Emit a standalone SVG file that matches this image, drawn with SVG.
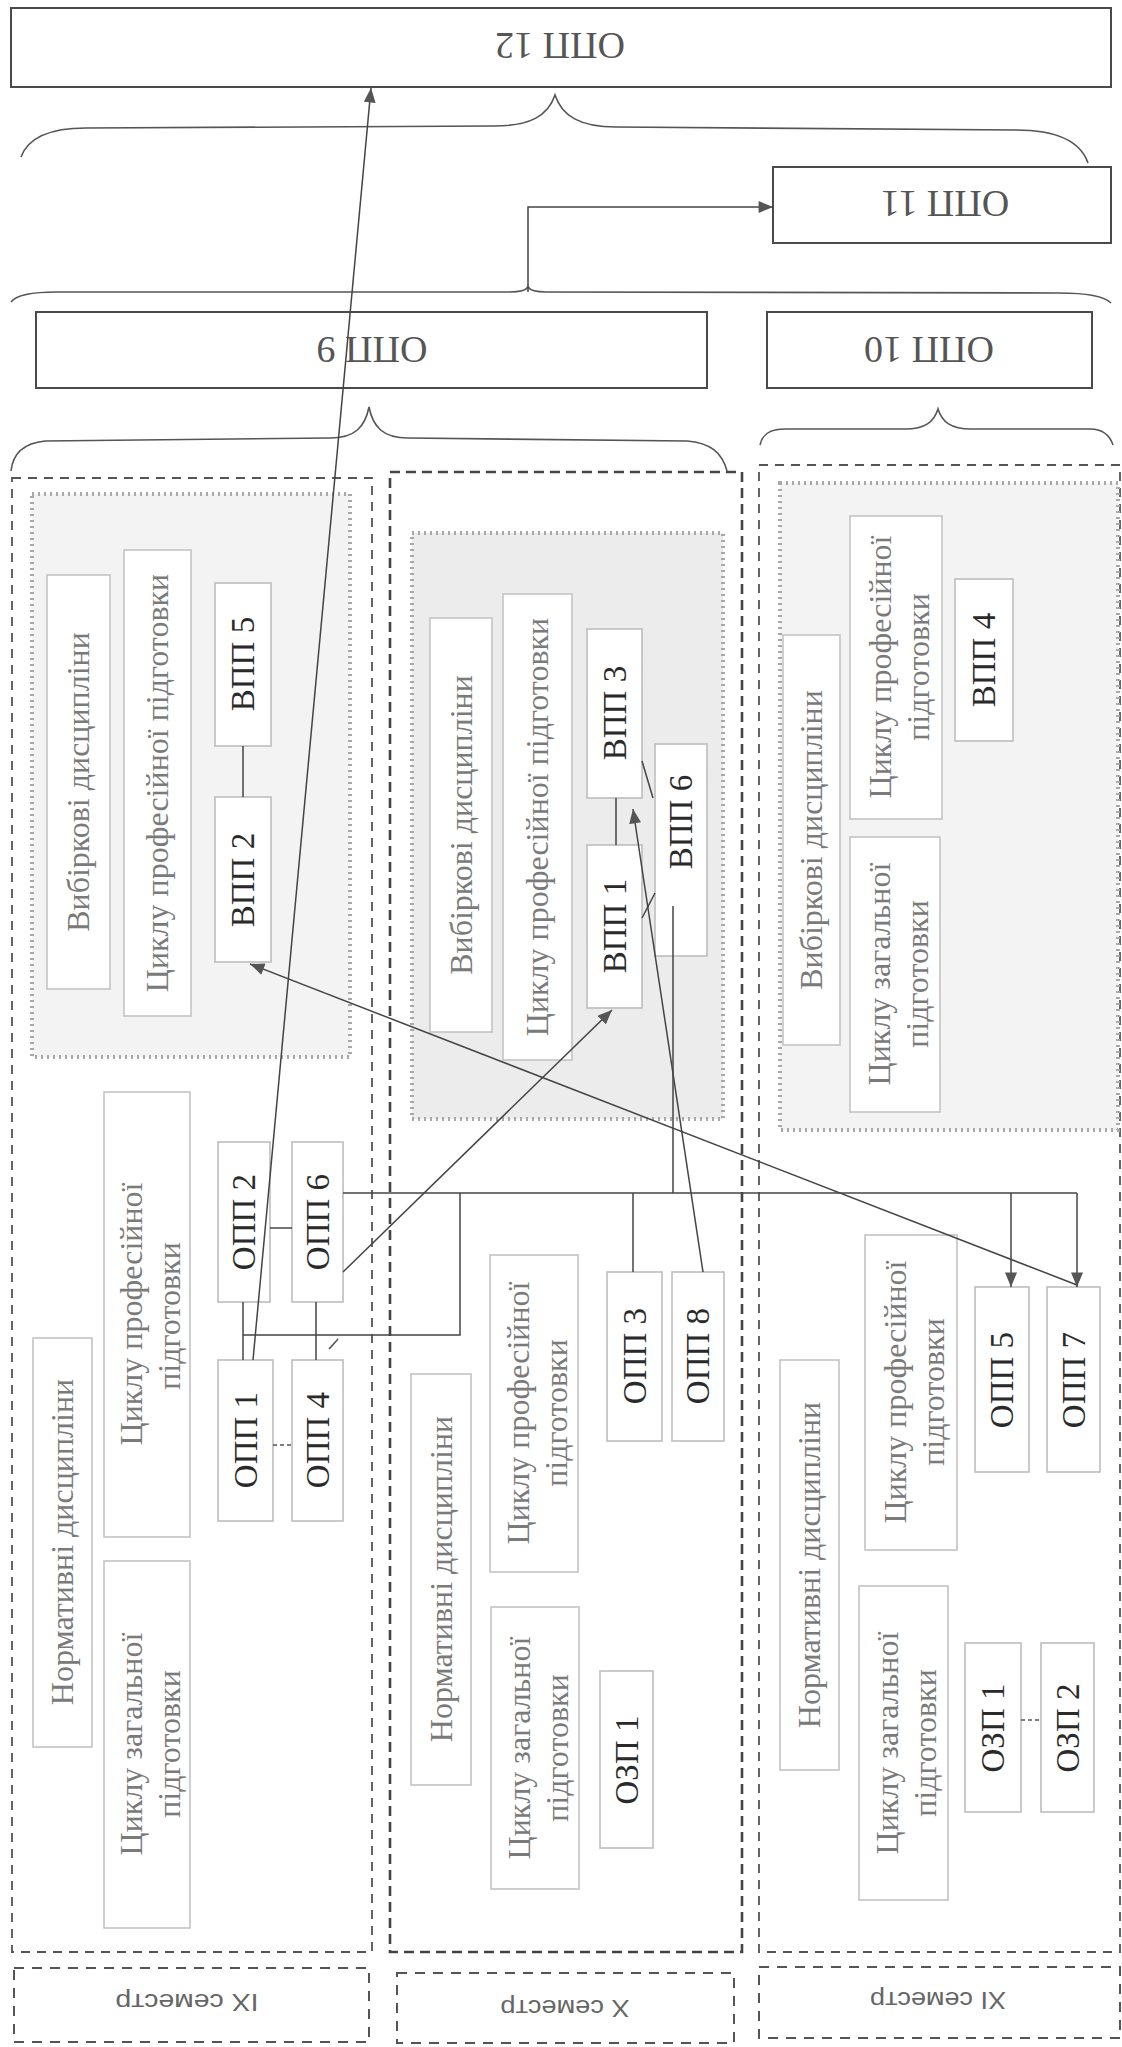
<svg xmlns="http://www.w3.org/2000/svg" width="1122" height="2047" viewBox="0 0 1122 2047">
<defs>
<style>
.big{fill:#fff;stroke:#4a4a4a;stroke-width:2}
.bigt{font-family:"Liberation Serif",serif;font-size:38px;fill:#555;text-anchor:middle;dominant-baseline:central}
.col{fill:none;stroke:#555;stroke-width:1.8;stroke-dasharray:9 7}
.colx{fill:none;stroke:#444;stroke-width:2.6;stroke-dasharray:10 6}
.sel{stroke:#a8a8a8;stroke-width:4;stroke-dasharray:2 4}
.lbl{fill:#fff;stroke:#c4c4c4;stroke-width:1.6}
.lt{font-family:"Liberation Serif",serif;font-size:32px;fill:#7a7a7a;text-anchor:middle}
.nd{fill:#fff;stroke:#bdbdbd;stroke-width:1.6}
.nt{font-family:"Liberation Serif",serif;font-size:33px;fill:#2a2a2a;text-anchor:middle}
.ln{fill:none;stroke:#444;stroke-width:1.5}
.dl{fill:none;stroke:#555;stroke-width:1.5;stroke-dasharray:4 3}
.br{fill:none;stroke:#555;stroke-width:1.6}
.semb{fill:none;stroke:#555;stroke-width:2;stroke-dasharray:10 8}
.semt{font-family:"Liberation Sans",Arial,sans-serif;font-size:23px;fill:#666;text-anchor:middle;dominant-baseline:central}
</style>
<marker id="ah" viewBox="0 0 12 10" refX="12" refY="5" markerWidth="15" markerHeight="12" markerUnits="userSpaceOnUse" orient="auto">
<path d="M0,0 L12,5 L0,10 z" fill="#555"/>
</marker>
</defs>
<rect width="1122" height="2047" fill="#fff"/>

<!-- column frames -->
<g id="columns">
<rect class="col" x="12" y="478" width="360" height="1474"/>
<rect class="colx" x="390" y="472" width="352" height="1480"/>
<rect class="col" x="759" y="465" width="361" height="1487"/>
</g>

<!-- selective areas -->
<g id="sel-areas">
<rect class="sel" x="32" y="494" width="318" height="563" fill="#f3f3f3"/>
<rect class="sel" x="412" y="533" width="311" height="586" fill="#ececec"/>
<rect class="sel" x="780" y="483" width="338" height="647" fill="#f3f3f3"/>
</g>

<!-- top level nodes -->
<g id="opp12"><rect class="big" x="11" y="8" width="1100" height="79"/><text class="bigt" transform="translate(560,46) rotate(180)">ОПП 12</text></g>
<g id="opp11"><rect class="big" x="773" y="167" width="338" height="76"/><text class="bigt" transform="translate(945,204) rotate(180)">ОПП 11</text></g>
<g id="opp9"><rect class="big" x="36" y="312" width="671" height="76"/><text class="bigt" transform="translate(372,350) rotate(180)">ОПП 9</text></g>
<g id="opp10"><rect class="big" x="767" y="312" width="325" height="76"/><text class="bigt" transform="translate(929,350) rotate(180)">ОПП 10</text></g>

<!-- braces -->
<g id="braces">
<path class="br" d="M21,157 C28,138 50,128 86,128 L494,126 C530,126 548,116 555,95 C562,116 580,127 616,127 L1016,130 C1055,130 1080,140 1088,163"/>
<path class="br" d="M11,302 C16,295 30,292 57,292 L510,292 C520,292 526,290 528,287 C530,290 536,292 546,292 L1059,293 C1088,293 1104,296 1111,303"/>
<path class="br" d="M11,471 C13,452 25,443 45,441 L330,438 C355,438 365,427 369,407 C373,427 383,438 408,438 L687,441 C710,443 722,452 727,471"/>
<path class="br" d="M760,445 C762,434 770,429 785,429 L905,429 C925,429 934,422 938,409 C942,422 951,429 971,429 L1090,429 C1104,429 1110,436 1113,445"/>
</g>

<!-- Column IX nodes -->
<g id="ix-vyb"><rect class="lbl" x="47" y="575" width="63" height="414"/><text class="lt" transform="translate(89,782) rotate(-90)">Вибіркові дисципліни</text></g>
<g id="ix-vyb-prof"><rect class="lbl" x="124" y="550" width="67" height="466"/><text class="lt" transform="translate(168,783) rotate(-90)">Циклу професійної підготовки</text></g>
<g id="ix-vpp5"><rect class="nd" x="215" y="583" width="56" height="163"/><text class="nt" transform="translate(254,664) rotate(-90)">ВПП 5</text></g>
<g id="ix-vpp2"><rect class="nd" x="215" y="797" width="56" height="165"/><text class="nt" transform="translate(254,880) rotate(-90)">ВПП 2</text></g>
<g id="ix-norm"><rect class="lbl" x="33" y="1338" width="59" height="409"/><text class="lt" transform="translate(73,1542) rotate(-90)">Нормативні дисципліни</text></g>
<g id="ix-norm-prof"><rect class="lbl" x="104" y="1092" width="86" height="445"/><text class="lt" transform="translate(142,1314) rotate(-90)">Циклу професійної</text><text class="lt" transform="translate(180,1316) rotate(-90)">підготовки</text></g>
<g id="ix-norm-zag"><rect class="lbl" x="104" y="1561" width="86" height="367"/><text class="lt" transform="translate(142,1744) rotate(-90)">Циклу загальної</text><text class="lt" transform="translate(180,1744) rotate(-90)">підготовки</text></g>
<g id="ix-opp2"><rect class="nd" x="218" y="1142" width="52" height="160"/><text class="nt" transform="translate(255,1222) rotate(-90)">ОПП 2</text></g>
<g id="ix-opp6"><rect class="nd" x="292" y="1142" width="51" height="160"/><text class="nt" transform="translate(329,1222) rotate(-90)">ОПП 6</text></g>
<g id="ix-opp1"><rect class="nd" x="218" y="1360" width="55" height="161"/><text class="nt" transform="translate(257,1440) rotate(-90)">ОПП 1</text></g>
<g id="ix-opp4"><rect class="nd" x="292" y="1360" width="51" height="161"/><text class="nt" transform="translate(329,1440) rotate(-90)">ОПП 4</text></g>

<!-- Column X nodes -->
<g id="x-vyb"><rect class="lbl" x="430" y="618" width="62" height="414"/><text class="lt" transform="translate(472,825) rotate(-90)">Вибіркові дисципліни</text></g>
<g id="x-vyb-prof"><rect class="lbl" x="503" y="594" width="69" height="466"/><text class="lt" transform="translate(548,827) rotate(-90)">Циклу професійної підготовки</text></g>
<g id="x-vpp3"><rect class="nd" x="587" y="629" width="55" height="169"/><text class="nt" transform="translate(626,713) rotate(-90)">ВПП 3</text></g>
<g id="x-vpp1"><rect class="nd" x="587" y="845" width="55" height="163"/><text class="nt" transform="translate(626,926) rotate(-90)">ВПП 1</text></g>
<g id="x-vpp6"><rect class="nd" x="655" y="744" width="52" height="212"/><text class="nt" transform="translate(692,822) rotate(-90)">ВПП 6</text></g>
<g id="x-norm"><rect class="lbl" x="411" y="1374" width="60" height="411"/><text class="lt" transform="translate(452,1579) rotate(-90)">Нормативні дисципліни</text></g>
<g id="x-norm-prof"><rect class="lbl" x="490" y="1255" width="88" height="317"/><text class="lt" transform="translate(529,1413) rotate(-90)">Циклу професійної</text><text class="lt" transform="translate(567,1413) rotate(-90)">підготовки</text></g>
<g id="x-norm-zag"><rect class="lbl" x="491" y="1607" width="88" height="282"/><text class="lt" transform="translate(530,1748) rotate(-90)">Циклу загальної</text><text class="lt" transform="translate(568,1748) rotate(-90)">підготовки</text></g>
<g id="x-opp3"><rect class="nd" x="607" y="1272" width="55" height="169"/><text class="nt" transform="translate(646,1356) rotate(-90)">ОПП 3</text></g>
<g id="x-opp8"><rect class="nd" x="672" y="1272" width="52" height="169"/><text class="nt" transform="translate(709,1356) rotate(-90)">ОПП 8</text></g>
<g id="x-ozp1"><rect class="nd" x="600" y="1671" width="53" height="177"/><text class="nt" transform="translate(638,1760) rotate(-90)">ОЗП 1</text></g>

<!-- Column XI nodes -->
<g id="xi-vyb"><rect class="lbl" x="783" y="635" width="57" height="410"/><text class="lt" transform="translate(822,840) rotate(-90)">Вибіркові дисципліни</text></g>
<g id="xi-vyb-prof"><rect class="lbl" x="850" y="516" width="92" height="303"/><text class="lt" transform="translate(891,667) rotate(-90)">Циклу професійної</text><text class="lt" transform="translate(929,667) rotate(-90)">підготовки</text></g>
<g id="xi-vpp4"><rect class="nd" x="955" y="579" width="58" height="162"/><text class="nt" transform="translate(995,660) rotate(-90)">ВПП 4</text></g>
<g id="xi-vyb-zag"><rect class="lbl" x="850" y="837" width="90" height="275"/><text class="lt" transform="translate(890,974) rotate(-90)">Циклу загальної</text><text class="lt" transform="translate(928,974) rotate(-90)">підготовки</text></g>
<g id="xi-norm"><rect class="lbl" x="780" y="1360" width="59" height="410"/><text class="lt" transform="translate(820,1565) rotate(-90)">Нормативні дисципліни</text></g>
<g id="xi-norm-prof"><rect class="lbl" x="865" y="1235" width="92" height="315"/><text class="lt" transform="translate(906,1392) rotate(-90)">Циклу професійної</text><text class="lt" transform="translate(944,1392) rotate(-90)">підготовки</text></g>
<g id="xi-norm-zag"><rect class="lbl" x="859" y="1586" width="89" height="314"/><text class="lt" transform="translate(898,1743) rotate(-90)">Циклу загальної</text><text class="lt" transform="translate(936,1743) rotate(-90)">підготовки</text></g>
<g id="xi-opp5"><rect class="nd" x="975" y="1287" width="54" height="185"/><text class="nt" transform="translate(1013,1380) rotate(-90)">ОПП 5</text></g>
<g id="xi-opp7"><rect class="nd" x="1047" y="1287" width="53" height="185"/><text class="nt" transform="translate(1085,1380) rotate(-90)">ОПП 7</text></g>
<g id="xi-ozp1"><rect class="nd" x="965" y="1643" width="56" height="169"/><text class="nt" transform="translate(1004,1728) rotate(-90)">ОЗП 1</text></g>
<g id="xi-ozp2"><rect class="nd" x="1041" y="1643" width="53" height="169"/><text class="nt" transform="translate(1079,1728) rotate(-90)">ОЗП 2</text></g>

<!-- semester labels -->
<g id="sem-ix"><rect class="semb" x="14" y="1968" width="355" height="74"/><text class="semt" transform="translate(187,2002) rotate(180)" textLength="143" lengthAdjust="spacingAndGlyphs">ІХ семестр</text></g>
<g id="sem-x"><rect class="semb" x="397" y="1973" width="337" height="70"/><text class="semt" transform="translate(565,2008) rotate(180)" textLength="129" lengthAdjust="spacingAndGlyphs">Х семестр</text></g>
<g id="sem-xi"><rect class="semb" x="759" y="1967" width="361" height="71"/><text class="semt" transform="translate(938,2000) rotate(180)" textLength="136" lengthAdjust="spacingAndGlyphs">ХІ семестр</text></g>

<!-- connectors -->
<g id="connectors">
<path class="ln" d="M528,292 V207 H773" marker-end="url(#ah)"/>
<path class="ln" d="M243,746 V797"/>
<path class="ln" d="M616,798 V845"/>
<path class="ln" d="M243,1302 V1360"/>
<path class="ln" d="M316,1302 V1360"/>
<path class="ln" d="M270,1228 H292"/>
<path class="ln" d="M243,1335 H460 V1193"/>
<path class="ln" d="M343,1193 H1077"/>
<path class="ln" d="M1011,1193 V1287" marker-end="url(#ah)"/>
<path class="ln" d="M1077,1193 V1287" marker-end="url(#ah)"/>
<path class="ln" d="M633,1193 V1272"/>
<path class="ln" d="M673,906 V1193"/>
<path class="ln" d="M253,1360 L371,88" marker-end="url(#ah)"/>
<path class="ln" d="M343,1272 L612,1010" marker-end="url(#ah)"/>
<path class="ln" d="M1077,1285 L250,964" marker-end="url(#ah)"/>
<path class="ln" d="M703,1272 L633,809" marker-end="url(#ah)"/>
<path class="ln" d="M642,761 L653,798"/>
<path class="ln" d="M642,918 L655,893"/>
<path class="dl" d="M273,1445 H292"/>
<path class="dl" d="M1021,1720 H1041"/>
<path d="M329,1349 L338,1339 L331,1347 z" fill="#555" stroke="#555" stroke-width="1.5"/>
</g>
</svg>
